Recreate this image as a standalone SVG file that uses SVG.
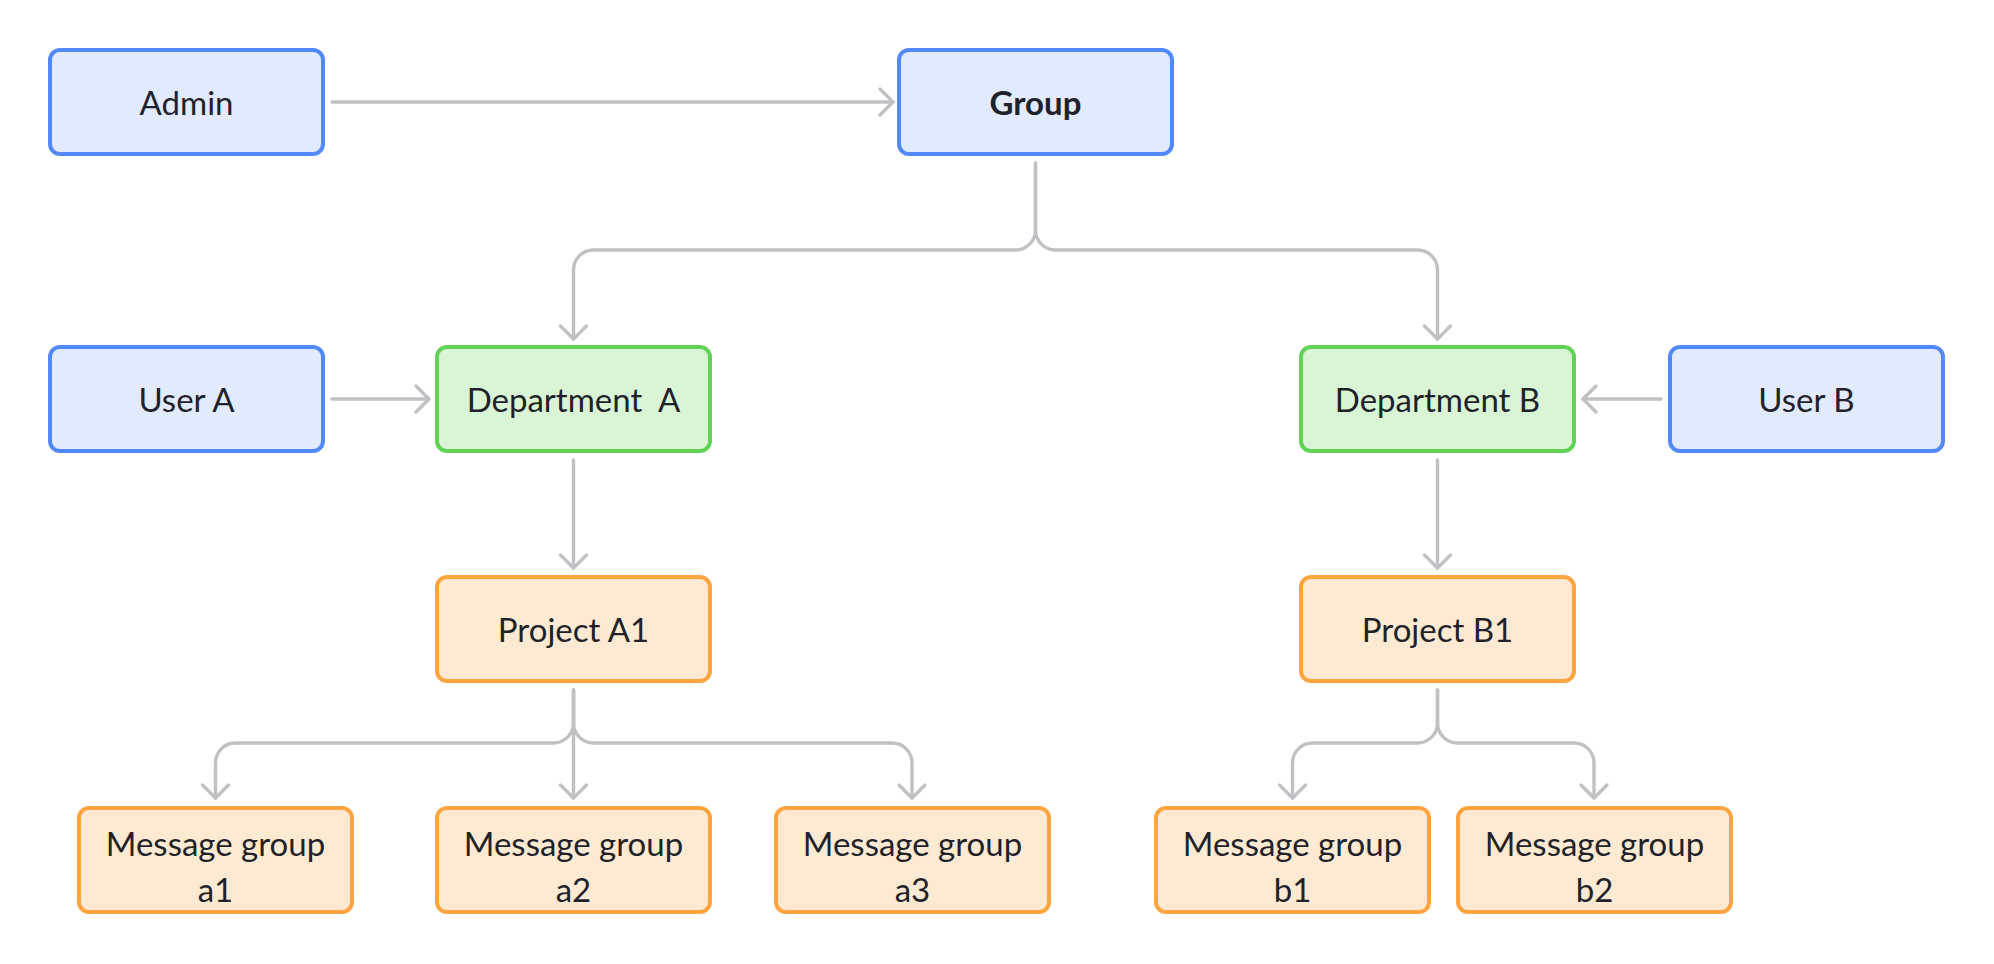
<svg xmlns="http://www.w3.org/2000/svg" width="1994" height="964" viewBox="0 0 1994 964">
<style>
.box{stroke-width:4}
.blue{fill:#e1eaff;stroke:#5189fb}
.green{fill:#d9f5d6;stroke:#62d256}
.orange{fill:#feead2;stroke:#ffa43e}
.t{font-family:Lato,"Noto Sans",sans-serif;font-size:33px;fill:#1f2329;text-anchor:middle}
.b{font-weight:bold}
.c{fill:none;stroke:#bfc1c5;stroke-width:3.4;stroke-linecap:round;stroke-linejoin:round;marker-end:url(#arr)}
</style>
<defs>
<marker id="arr" viewBox="-18 -18 22 36" refX="0" refY="0" markerWidth="22" markerHeight="36" markerUnits="userSpaceOnUse" orient="auto">
<path d="M-13,-13 L0,0 L-13,13" fill="none" stroke="#bfc1c5" stroke-width="3.4" stroke-linecap="round" stroke-linejoin="round"/>
</marker>
</defs>
<rect width="1994" height="964" fill="#ffffff"/>
<g id="connectors">
<path class="c" d="M332 102 H893"/>
<path class="c" d="M1035.5 163 V230 A20 20 0 0 1 1015.5 250 H593.5 A20 20 0 0 0 573.5 270 V339"/>
<path class="c" d="M1035.5 163 V230 A20 20 0 0 0 1055.5 250 H1417.5 A20 20 0 0 1 1437.5 270 V339"/>
<path class="c" d="M332 399 H429"/>
<path class="c" d="M1661 399 H1583"/>
<path class="c" d="M573.5 460 V568"/>
<path class="c" d="M1437.5 460 V568"/>
<path class="c" d="M573.5 690 V723 A20 20 0 0 1 553.5 743 H235.5 A20 20 0 0 0 215.5 763 V798"/>
<path class="c" d="M573.5 690 V798"/>
<path class="c" d="M573.5 690 V723 A20 20 0 0 0 593.5 743 H892 A20 20 0 0 1 912 763 V798"/>
<path class="c" d="M1437.5 690 V723 A20 20 0 0 1 1417.5 743 H1312.5 A20 20 0 0 0 1292.5 763 V798"/>
<path class="c" d="M1437.5 690 V723 A20 20 0 0 0 1457.5 743 H1574 A20 20 0 0 1 1594 763 V798"/>
</g>
<g id="admin"><rect class="box blue" x="50" y="50" width="273" height="104" rx="10"/><text class="t" x="186.5" y="115">Admin</text></g>
<g id="group"><rect class="box blue" x="899" y="50" width="273" height="104" rx="10"/><text class="t b" x="1035.5" y="115">Group</text></g>
<g id="userA"><rect class="box blue" x="50" y="347" width="273" height="104" rx="10"/><text class="t" x="186.5" y="412">User A</text></g>
<g id="deptA"><rect class="box green" x="437" y="347" width="273" height="104" rx="10"/><text class="t" x="573.5" y="412" xml:space="preserve">Department  A</text></g>
<g id="deptB"><rect class="box green" x="1301" y="347" width="273" height="104" rx="10"/><text class="t" x="1437.5" y="412">Department B</text></g>
<g id="userB"><rect class="box blue" x="1670" y="347" width="273" height="104" rx="10"/><text class="t" x="1806.5" y="412">User B</text></g>
<g id="projA1"><rect class="box orange" x="437" y="577" width="273" height="104" rx="10"/><text class="t" x="573.5" y="642">Project A1</text></g>
<g id="projB1"><rect class="box orange" x="1301" y="577" width="273" height="104" rx="10"/><text class="t" x="1437.5" y="642">Project B1</text></g>
<g id="mga1"><rect class="box orange" x="79" y="808" width="273" height="104" rx="10"/><text class="t" x="215.5" y="856">Message group</text><text class="t" x="215.5" y="902">a1</text></g>
<g id="mga2"><rect class="box orange" x="437" y="808" width="273" height="104" rx="10"/><text class="t" x="573.5" y="856">Message group</text><text class="t" x="573.5" y="902">a2</text></g>
<g id="mga3"><rect class="box orange" x="776" y="808" width="273" height="104" rx="10"/><text class="t" x="912.5" y="856">Message group</text><text class="t" x="912.5" y="902">a3</text></g>
<g id="mgb1"><rect class="box orange" x="1156" y="808" width="273" height="104" rx="10"/><text class="t" x="1292.5" y="856">Message group</text><text class="t" x="1292.5" y="902">b1</text></g>
<g id="mgb2"><rect class="box orange" x="1458" y="808" width="273" height="104" rx="10"/><text class="t" x="1594.5" y="856">Message group</text><text class="t" x="1594.5" y="902">b2</text></g>
</svg>
